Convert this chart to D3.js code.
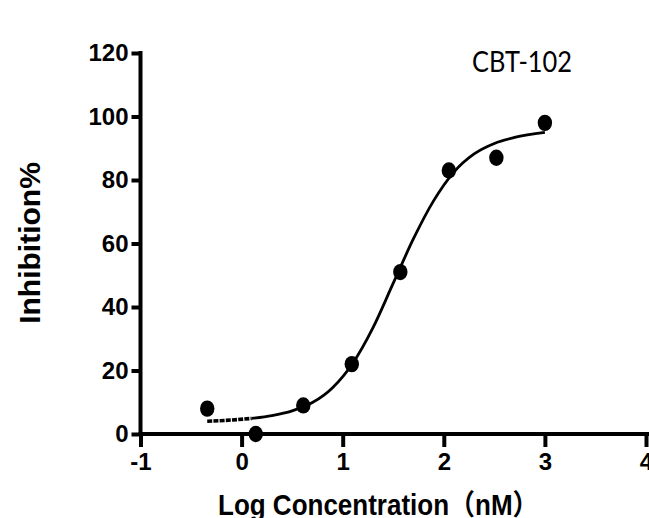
<!DOCTYPE html>
<html>
<head>
<meta charset="utf-8">
<script src="https://cdn.jsdelivr.net/npm/d3@7"></script>
<style>
  html, body { margin: 0; padding: 0; background: #fff; }
  svg { display: block; }
</style>
</head>
<body>
<svg id="chart" width="649" height="518"></svg>
<script>
// Data
const logConc = [-0.34, 0.14, 0.61, 1.09, 1.57, 2.05, 2.52, 3.0];
const inhibition = [8, 0, 9, 22, 51, 83, 87, 98];

// Fitted curve
const curveX = [-0.34, -0.1, 0.1, 0.3, 0.5, 0.7, 0.9, 1.1, 1.3, 1.5, 1.7, 1.9, 2.1, 2.3, 2.5, 2.7, 3.0];
const curveY = [4.0, 4.4, 4.9, 5.8, 7.3, 9.9, 14.6, 22.3, 33.5, 47.5, 61.5, 73.5, 82.5, 88.2, 91.5, 93.4, 95.0];

const xTicks = [-1, 0, 1, 2, 3, 4];
const xTickLabels = ["-1", "0", "1", "2", "3", "4"];
const yTicks = [0, 20, 40, 60, 80, 100, 120];

const title = "CBT-102";
const xLabel = "Log Concentration（nM）";
const yLabel = "Inhibition%";

const svg = d3.select("#chart");
const x = d3.scaleLinear().domain([-1, 4]).range([140.5, 646]);
const y = d3.scaleLinear().domain([0, 120]).range([434, 53]);

const tickFont = "'Liberation Sans', Arial, sans-serif";

// Y axis
const yAxis = svg.append("g")
  .attr("transform", `translate(${x(-1)},0)`)
  .call(d3.axisLeft(y).tickValues(yTicks).tickSize(9).tickSizeOuter(0).tickPadding(3));
yAxis.select(".domain").remove();
yAxis.selectAll(".tick line").attr("stroke", "#000").attr("stroke-width", 4);
yAxis.selectAll(".tick text")
  .attr("fill", "#000")
  .style("font-family", tickFont)
  .style("font-weight", "bold")
  .style("font-size", "24px");
yAxis.append("line")
  .attr("x1", 0).attr("x2", 0)
  .attr("y1", y(120) - 2).attr("y2", y(0) + 2)
  .attr("stroke", "#000").attr("stroke-width", 4);

// X axis
const xAxis = svg.append("g")
  .attr("transform", `translate(0,${y(0)})`)
  .call(d3.axisBottom(x).tickValues(xTicks).tickSize(13).tickSizeOuter(0).tickPadding(6)
    .tickFormat((d, i) => xTickLabels[i]));
xAxis.select(".domain").remove();
xAxis.selectAll(".tick line").attr("stroke", "#000").attr("stroke-width", 4);
xAxis.selectAll(".tick text")
  .attr("fill", "#000")
  .style("font-family", tickFont)
  .style("font-weight", "bold")
  .style("font-size", "24px");
xAxis.append("line")
  .attr("x1", x(-1) - 2).attr("x2", 649)
  .attr("y1", 0).attr("y2", 0)
  .attr("stroke", "#000").attr("stroke-width", 4);

// Curve
const pts = curveX.map((v, i) => [v, curveY[i]]);
const line = d3.line().x(d => x(d[0])).y(d => y(d[1])).curve(d3.curveMonotoneX);
const lowPts = pts.filter(d => d[0] <= 0.1);
const highPts = pts.filter(d => d[0] >= 0.1);
svg.append("path")
  .attr("d", line(lowPts))
  .attr("fill", "none").attr("stroke", "#000").attr("stroke-width", 3.6)
  .attr("stroke-dasharray", "5,1.2");
svg.append("path")
  .attr("d", line(highPts))
  .attr("fill", "none").attr("stroke", "#000").attr("stroke-width", 2.8);

// Points
svg.append("g").selectAll("ellipse")
  .data(logConc.map((v, i) => [v, inhibition[i]]))
  .join("ellipse")
  .attr("cx", d => x(d[0]))
  .attr("cy", d => y(d[1]))
  .attr("rx", 7.2).attr("ry", 8.2)
  .attr("fill", "#000");

// Title
svg.append("text")
  .attr("x", 472).attr("y", 72)
  .attr("textLength", 100).attr("lengthAdjust", "spacingAndGlyphs")
  .style("font-family", "Lato, 'Open Sans', sans-serif")
  .style("font-size", "28px")
  .attr("fill", "#000")
  .text(title);

// Y label
svg.append("text")
  .attr("transform", "translate(40,243) rotate(-90)")
  .attr("text-anchor", "middle")
  .style("font-family", tickFont)
  .style("font-weight", "bold")
  .style("font-size", "30px")
  .attr("fill", "#000")
  .text(yLabel);

// X label
svg.append("text")
  .attr("transform", "translate(218,515) scale(1,1.1)")
  .style("font-family", "'Liberation Sans', Arial, 'Noto Sans CJK SC', sans-serif")
  .style("font-weight", "bold")
  .style("font-size", "26px")
  .attr("fill", "#000")
  .text(xLabel);
</script>
</body>
</html>
